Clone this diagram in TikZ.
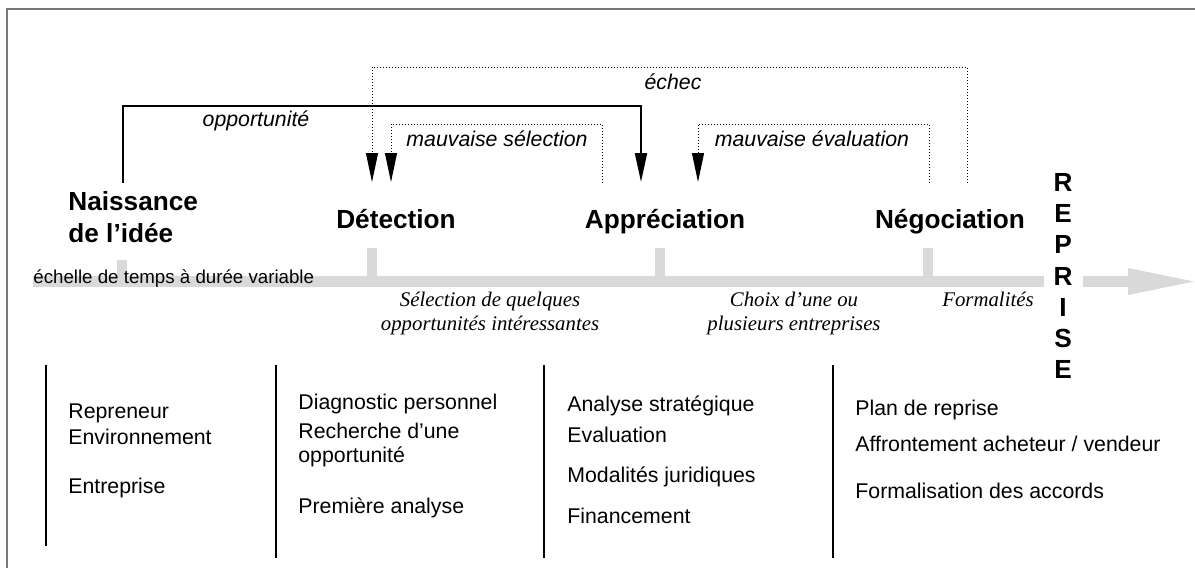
\documentclass[tikz,border=0pt]{standalone}
\usepackage{fontspec}
\setmainfont{Liberation Sans}
\newfontfamily\timesfont{Liberation Serif}
\usetikzlibrary{calc,arrows.meta}
\definecolor{bargray}{RGB}{217,217,217}
\definecolor{framegray}{RGB}{120,120,120}

\begin{document}
\begin{tikzpicture}[x=0.5pt,y=-0.5pt,
    stage/.style={font=\fontsize{13.1}{16}\selectfont\bfseries, inner sep=0pt, text height=0.72em, text depth=0pt},
    item/.style={anchor=west, font=\fontsize{10.65}{12}\selectfont, inner sep=0pt, text height=0.72em, text depth=0pt},
    loopname/.style={font=\fontsize{10.65}{12}\selectfont\itshape, inner sep=0pt, text height=0.72em, text depth=0pt},
    note/.style={anchor=north, align=center, inner sep=0pt, font=\timesfont\itshape\fontsize{10.4}{12}\selectfont},
    forth/.style={line width=1pt, -{Triangle[length=14.5pt,width=6pt]}},
    back/.style={line width=0.5pt, dash pattern=on 0.5pt off 1pt, -{Triangle[length=14.5pt,width=6pt]}},
  ]
     %\draw[step=50,very thin,color=blue!20] (0,0) grid (1195,568);
     \useasboundingbox (0,0) rectangle (1195,568);
     \draw[framegray, line width=0.8pt] (7,568) -- (7,9) -- (1195,9);

     % time line
     \fill[bargray] (33,276) rectangle (1044,287);
     \fill[bargray] (1083,276) rectangle (1128,287);
     \fill[bargray] (1128,268) -- (1194,281.5) -- (1128,295) -- cycle;
     \foreach \x/\top in {122/260, 372/248, 660/248, 928/248}
        \fill[bargray] (\x-5,\top) rectangle (\x+5,281);
     \node[anchor=west, inner sep=0pt, text height=0.72em, text depth=0pt,
           font=\fontsize{9.35}{11}\selectfont] (scale) at (33,276) {échelle de temps à durée variable};

     % stages
     \node[stage, anchor=north west, align=left, text height=] (naiss) at (68,191) {Naissance\\de l’idée};
     \node[stage] (detect) at (396,221) {Détection};
     \node[stage] (apprec) at (665,221) {Appréciation};
     \node[stage] (nego) at (950,221) {Négociation};
     \node[stage, anchor=north, align=center, text height=, font=\fontsize{13.1}{15.6}\selectfont\bfseries] (reprise) at (1063,173) {R\\E\\P\\R\\I\\S\\E};

     % loops above the stages
     \coordinate (OppA) at (123,183);
     \coordinate (OppB) at (641,182);
     \coordinate (EchA) at (967,183);
     \coordinate (EchB) at (372,182);
     \coordinate (SelA) at (602,183);
     \coordinate (SelB) at (391,182);
     \coordinate (EvaA) at (929,183);
     \coordinate (EvaB) at (698,182);

     \draw[forth] (OppA) |- (641,106) -- (OppB);
     \draw[back] (EchA) |- (372,67) -- (EchB);
     \draw[back] (SelA) |- (391,124) -- (SelB);
     \draw[back] (EvaA) |- (698,124) -- (EvaB);

     \node[loopname] (opp) at (256,119) {opportunité};
     \node[loopname] (ech) at (673,82) {échec};
     \node[loopname] (sel) at (497,139) {mauvaise sélection};
     \node[loopname] (eva) at (812,139) {mauvaise évaluation};

     % results under the time line
     \node[note] (select) at (490,292) {Sélection de quelques\\opportunités intéressantes};
     \node[note] (choix) at (794,292) {Choix d’une ou\\plusieurs entreprises};
     \node[note] (formal) at (988,292) {Formalités};

     % contents of each phase
     \foreach \x/\bot in {46/546, 276/558, 544/558, 833/558}
        \draw[line width=1.1pt] (\x,365) -- (\x,\bot);

     \node[item] (repr) at (68,411) {Repreneur};
     \node[item] (envi) at (68,437) {Environnement};
     \node[item] (entr) at (68,486) {Entreprise};

     \node[item] (diag) at (298,402) {Diagnostic personnel};
     \node[item, anchor=north west, align=left, text height=] (rech) at (298,423) {Recherche d’une\\opportunité};
     \node[item] (prem) at (298,506) {Première analyse};

     \node[item] (anal) at (567,404) {Analyse stratégique};
     \node[item] (eval) at (567,435) {Evaluation};
     \node[item] (moda) at (567,475) {Modalités juridiques};
     \node[item] (fina) at (567,516) {Financement};

     \node[item] (plan) at (855,408) {Plan de reprise};
     \node[item] (affr) at (855,444) {Affrontement acheteur / vendeur};
     \node[item] (form) at (855,491) {Formalisation des accords};

  \end{tikzpicture}
\end{document}
